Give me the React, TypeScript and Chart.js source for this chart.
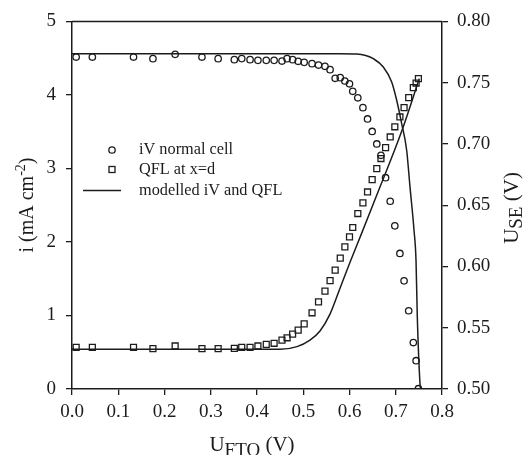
import React, { useEffect, useRef } from "react";
import { Chart, registerables } from "chart.js";

Chart.register(...registerables);

const FONT = '"Liberation Serif", "Times New Roman", serif';
const INK = "#1c1c1c";

// Tick values
const xTickValues = [0, 0.1, 0.2, 0.3, 0.4, 0.5, 0.6, 0.7, 0.8];
const currentTickValues = [0, 1, 2, 3, 4, 5];
const useTickValues = [0.5, 0.55, 0.6, 0.65, 0.7, 0.75, 0.8];

// Measured data (shared U_FTO values)
const measuredUfto = [
  0.009, 0.044, 0.133, 0.175, 0.223, 0.281, 0.316, 0.351, 0.367, 0.385, 0.402,
  0.42, 0.437, 0.454, 0.465, 0.477, 0.489, 0.502, 0.519, 0.533, 0.547, 0.558,
  0.569, 0.58, 0.59, 0.6, 0.607, 0.618, 0.629, 0.639, 0.649, 0.659, 0.668,
  0.678, 0.688, 0.698, 0.709, 0.718, 0.728, 0.738, 0.744, 0.749,
];
const ivCurrent = [
  4.515, 4.515, 4.515, 4.493, 4.552, 4.515, 4.493, 4.48, 4.494, 4.48, 4.47,
  4.47, 4.47, 4.461, 4.493, 4.48, 4.457, 4.443, 4.425, 4.406, 4.389, 4.344,
  4.226, 4.235, 4.189, 4.151, 4.049, 3.961, 3.827, 3.673, 3.503, 3.333, 3.179,
  2.874, 2.554, 2.219, 1.844, 1.471, 1.064, 0.632, 0.385, 0.004,
];
const qflUse = [
  0.534, 0.534, 0.534, 0.5329, 0.5351, 0.5329, 0.5329, 0.5332, 0.534, 0.534,
  0.5351, 0.5364, 0.5373, 0.5399, 0.5418, 0.5448, 0.5481, 0.5531, 0.5622,
  0.5711, 0.5799, 0.5884, 0.597, 0.6068, 0.616, 0.6242, 0.6318, 0.6432, 0.6519,
  0.6608, 0.6709, 0.6799, 0.6881, 0.697, 0.7057, 0.714, 0.722, 0.7296, 0.7378,
  0.7459, 0.7497, 0.7533,
];

// Modelled curves
const modelIvUfto = [
  0, 0.3, 0.58, 0.6155, 0.635, 0.6515, 0.6731, 0.6912, 0.702, 0.7128, 0.7236,
  0.7308, 0.7395, 0.7438, 0.7466, 0.7524, 0.7539,
];
const modelIvCurrent = [
  4.561, 4.561, 4.561, 4.556, 4.535, 4.493, 4.379, 4.175, 3.927, 3.61, 3.247,
  2.749, 2.16, 1.753, 0.982, 0.077, 0,
];
const modelQflUfto = [
  0, 0.3, 0.4497, 0.4865, 0.5146, 0.5362, 0.5578, 0.5795, 0.6011, 0.6264,
  0.6588, 0.7128, 0.7509,
];
const modelQflUse = [
  0.5324, 0.5324, 0.5324, 0.5346, 0.5399, 0.5473, 0.5611, 0.5823, 0.6035,
  0.6272, 0.6581, 0.7103, 0.7533,
];

const legendLabels = ["iV normal cell", "QFL at x=d", "modelled iV and QFL"];

type Part = { text: string; size: number; dy: number };

function drawParts(ctx: CanvasRenderingContext2D, parts: Part[], startX: number, baseY: number) {
  let x = startX;
  for (const p of parts) {
    ctx.font = `${p.size}px ${FONT}`;
    ctx.fillText(p.text, x, baseY + p.dy);
    x += ctx.measureText(p.text).width;
  }
}
function partsWidth(ctx: CanvasRenderingContext2D, parts: Part[]) {
  let w = 0;
  for (const p of parts) {
    ctx.font = `${p.size}px ${FONT}`;
    w += ctx.measureText(p.text).width;
  }
  return w;
}

const decor = {
  id: "decor",
  afterDraw(chart: any) {
    const ctx: CanvasRenderingContext2D = chart.ctx;
    const a = chart.chartArea;
    ctx.save();
    // top border
    ctx.strokeStyle = INK;
    ctx.lineWidth = 1.5;
    ctx.beginPath();
    ctx.moveTo(a.left, a.top);
    ctx.lineTo(a.right, a.top);
    ctx.stroke();

    // legend
    ctx.fillStyle = INK;
    ctx.textBaseline = "middle";
    ctx.textAlign = "left";
    ctx.font = `16.3px ${FONT}`;
    const lx = 139;
    const rows = [150, 169.5, 190.5];
    ctx.lineWidth = 1.3;
    ctx.beginPath();
    ctx.arc(112, rows[0], 3.2, 0, Math.PI * 2);
    ctx.stroke();
    ctx.strokeRect(109, rows[1] - 3, 6, 6);
    ctx.lineWidth = 1.5;
    ctx.beginPath();
    ctx.moveTo(83, rows[2]);
    ctx.lineTo(121, rows[2]);
    ctx.stroke();
    legendLabels.forEach((t, i) => ctx.fillText(t, lx, rows[i]));

    // axis titles
    ctx.textBaseline = "alphabetic";
    const bottomParts: Part[] = [
      { text: "U", size: 21, dy: 0 },
      { text: "FTO", size: 19, dy: 5 },
      { text: " (V)", size: 21, dy: 0 },
    ];
    const bw = partsWidth(ctx, bottomParts);
    drawParts(ctx, bottomParts, 252 - bw / 2, 451);

    const leftParts: Part[] = [
      { text: "i (mA cm", size: 20, dy: 0 },
      { text: "-2", size: 14, dy: -8 },
      { text: ")", size: 20, dy: 0 },
    ];
    const lw = partsWidth(ctx, leftParts);
    ctx.save();
    ctx.translate(33, 205);
    ctx.rotate(-Math.PI / 2);
    drawParts(ctx, leftParts, -lw / 2, 0);
    ctx.restore();

    const rightParts: Part[] = [
      { text: "U", size: 21, dy: 0 },
      { text: "SE", size: 19, dy: 4 },
      { text: " (V)", size: 21, dy: 0 },
    ];
    const rw = partsWidth(ctx, rightParts);
    ctx.save();
    ctx.translate(518, 208);
    ctx.rotate(-Math.PI / 2);
    drawParts(ctx, rightParts, -rw / 2, 0);
    ctx.restore();

    ctx.restore();
  },
};

export default function App() {
  const ref = useRef<HTMLCanvasElement>(null);
  useEffect(() => {
    const canvas = ref.current!;
    const tickFont = { family: FONT, size: 19 };
    const grid = {
      display: true,
      drawOnChartArea: false,
      drawTicks: true,
      tickLength: 6,
      color: INK,
      lineWidth: 1.3,
    };
    const border = { display: true, color: INK, width: 1.5 };
    const chart = new Chart(canvas, {
      type: "scatter",
      data: {
        datasets: [
          {
            label: legendLabels[0],
            data: measuredUfto.map((x, i) => ({ x, y: ivCurrent[i] })),
            yAxisID: "yI",
            pointStyle: "circle",
            pointRadius: 3.2,
            pointBorderWidth: 1.3,
            borderColor: INK,
            backgroundColor: "rgba(0,0,0,0)",
            showLine: false,
          },
          {
            label: legendLabels[1],
            data: measuredUfto.map((x, i) => ({ x, y: qflUse[i] })),
            yAxisID: "yU",
            pointStyle: "rect",
            pointRadius: 4.2,
            pointBorderWidth: 1.3,
            borderColor: INK,
            backgroundColor: "rgba(0,0,0,0)",
            showLine: false,
          },
          {
            label: "model iV",
            data: modelIvUfto.map((x, i) => ({ x, y: modelIvCurrent[i] })),
            yAxisID: "yI",
            showLine: true,
            pointRadius: 0,
            borderColor: INK,
            borderWidth: 1.5,
            cubicInterpolationMode: "monotone",
          },
          {
            label: "model QFL",
            data: modelQflUfto.map((x, i) => ({ x, y: modelQflUse[i] })),
            yAxisID: "yU",
            showLine: true,
            pointRadius: 0,
            borderColor: INK,
            borderWidth: 1.5,
            cubicInterpolationMode: "monotone",
          },
        ] as any,
      },
      options: {
        animation: false,
        responsive: false,
        devicePixelRatio: 1,
        layout: { padding: { top: 21, left: 0, right: 0, bottom: 0 } },
        plugins: { legend: { display: false }, tooltip: { enabled: false } },
        scales: {
          x: {
            type: "linear",
            position: "bottom",
            min: 0,
            max: 0.8,
            afterBuildTicks: (s: any) => {
              s.ticks = xTickValues.map((v) => ({ value: v }));
            },
            afterFit: (s: any) => {
              s.height = 66;
            },
            ticks: {
              callback: (v: any) => Number(v).toFixed(1),
              font: tickFont,
              color: INK,
              padding: 6,
              maxRotation: 0,
              autoSkip: false,
            },
            grid,
            border,
          },
          yI: {
            type: "linear",
            position: "left",
            min: 0,
            max: 5,
            afterBuildTicks: (s: any) => {
              s.ticks = currentTickValues.map((v) => ({ value: v }));
            },
            afterFit: (s: any) => {
              s.width = 72;
            },
            ticks: {
              callback: (v: any) => String(Number(v)),
              font: tickFont,
              color: INK,
              padding: 10,
              autoSkip: false,
            },
            grid,
            border,
          },
          yU: {
            type: "linear",
            position: "right",
            min: 0.5,
            max: 0.8,
            afterBuildTicks: (s: any) => {
              s.ticks = useTickValues.map((v) => ({ value: v }));
            },
            afterFit: (s: any) => {
              s.width = 81;
            },
            ticks: {
              callback: (v: any) => Number(v).toFixed(2),
              font: tickFont,
              color: INK,
              padding: 9,
              autoSkip: false,
            },
            grid,
            border,
          },
        },
      } as any,
      plugins: [decor],
    });
    return () => chart.destroy();
  }, []);
  return (
    <div style={{ position: "absolute", left: 0, top: 0, width: 523, height: 455, background: "#fff" }}>
      <canvas ref={ref} width={523} height={455} style={{ display: "block" }} />
    </div>
  );
}
